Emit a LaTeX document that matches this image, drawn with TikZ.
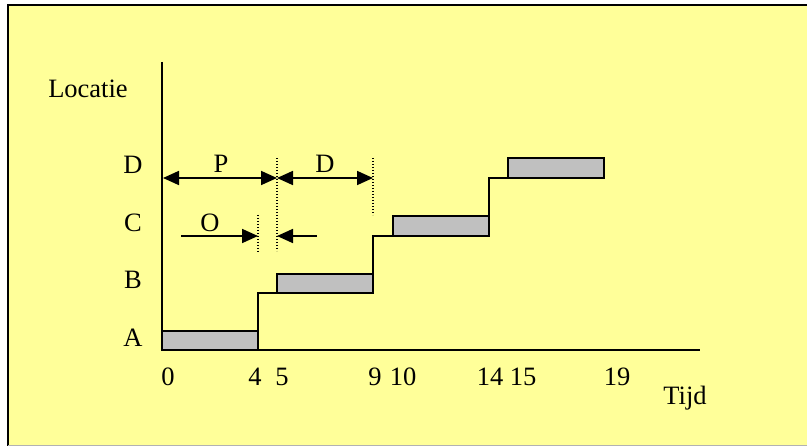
\documentclass[tikz,border=0pt]{standalone}
\usepackage{fontspec}
\setmainfont{Liberation Serif}
\usetikzlibrary{arrows.meta}
\definecolor{bgyellow}{HTML}{FFFF99}
\definecolor{boxgrey}{HTML}{C0C0C0}
\begin{document}
\begin{tikzpicture}[x=1pt,y=-1pt,
  lbl/.style={font=\fontsize{26.5}{30}\selectfont, inner sep=0pt, anchor=base},
  bar/.style={draw=black, fill=boxgrey, line width=1.8pt, inner sep=0pt, outer sep=0pt, anchor=north west, minimum width=96pt},
  stepline/.style={line width=1.8pt},
  axisline/.style={line width=1.6pt},
  dimarrow/.style={line width=1.8pt, {Triangle[length=16pt,width=14pt]}-{Triangle[length=16pt,width=14pt]}},
  onearrow/.style={line width=1.8pt, -{Triangle[length=16pt,width=14pt]}},
  guide/.style={line width=1.3pt, dash pattern=on 1.3pt off 1.7pt}]
\useasboundingbox (0,0) rectangle (807,446);
\fill[bgyellow] (8,5) rectangle (807,446);
\draw[line width=2pt] (8,446) -- (8,5) -- (807,5);
\draw[black!30, line width=1pt] (8,445.5) -- (807,445.5);

% axes
\coordinate (ytop) at (162,62);
\coordinate (origin) at (162,350);
\coordinate (xend) at (700,350);
\draw[axisline] (ytop) -- (origin) -- (xend);

% bars
\node[bar, minimum height=19pt] (barA) at (162,331) {};
\node[bar, minimum height=19pt] (barB) at (277,274) {};
\node[bar, minimum height=20pt] (barC) at (393,216) {};
\node[bar, minimum height=20pt] (barD) at (508,158) {};

% steps
\draw[stepline] (barA.south east) |- (barB.south west);
\draw[stepline] (barB.south east) |- (barC.south west);
\draw[stepline] (barC.south east) |- (barD.south west);

% guides (dotted)
\coordinate (g1t) at (277,158); \coordinate (g1b) at (277,251);
\coordinate (g2t) at (373,158); \coordinate (g2b) at (373,215);
\coordinate (g3t) at (258,215); \coordinate (g3b) at (258,253);
\draw[guide] (g1t) -- (g1b);
\draw[guide] (g2t) -- (g2b);
\draw[guide] (g3t) -- (g3b);

% dimension arrows
\coordinate (pL) at (163,178); \coordinate (pR) at (277,178); \coordinate (dR) at (373,178);
\draw[dimarrow] (pL) -- (pR);
\draw[dimarrow] (pR) -- (dR);
\coordinate (oL) at (181,236); \coordinate (oR) at (258,236);
\coordinate (qS) at (317,236); \coordinate (qE) at (277,236);
\draw[onearrow] (oL) -- (oR);
\draw[onearrow] (qS) -- (qE);

% labels
\node[lbl] (locatie) at (88,98) {Locatie};
\node[lbl] (tijd) at (685,405) {Tijd};
\node[lbl] (lA) at (133,347) {A};
\node[lbl] (lB) at (133,289) {B};
\node[lbl] (lC) at (133,232) {C};
\node[lbl] (lD) at (133,174) {D};
\node[lbl] (lP) at (221,173) {P};
\node[lbl] (lDd) at (325,173) {D};
\node[lbl] (lO) at (210,232) {O};
\node[lbl] (t0) at (168,386) {0};
\node[lbl] (t4) at (255,386) {4};
\node[lbl] (t5) at (282,386) {5};
\node[lbl] (t9) at (375,386) {9};
\node[lbl] (t10) at (403,386) {10};
\node[lbl] (t14) at (490,386) {14};
\node[lbl] (t15) at (523,386) {15};
\node[lbl] (t19) at (617,386) {19};
\end{tikzpicture}
\end{document}
